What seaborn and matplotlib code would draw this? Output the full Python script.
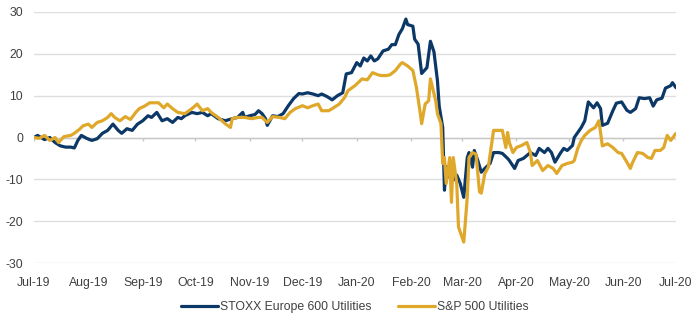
import matplotlib
matplotlib.use("Agg")
import matplotlib.pyplot as plt
import seaborn as sns
import pandas as pd

# ---- data (days since 1 Jul 2019, cumulative return %) ----
stoxx_days = [0, 2, 6, 9, 12, 15, 18, 21, 23, 25, 27, 30, 33, 36, 39, 42, 45, 48, 50, 53,
              56, 59, 62, 65, 67, 70, 73, 76, 79, 82, 84, 86, 90, 93, 96, 99, 101, 105, 109, 113,
              116, 119, 120, 123, 126, 128, 130, 132, 133, 136, 139, 142, 145, 148, 151, 153, 156, 159, 162, 164,
              167, 170, 173, 176, 178, 181, 184, 186, 188, 190, 192, 194, 196, 199, 202, 204, 206, 208, 210, 212,
              213, 216, 217, 219, 221, 224, 226, 228, 230, 231, 233, 234, 235, 237, 239, 241, 243, 245, 247, 248,
              250, 251, 253, 255, 257, 260, 262, 265, 267, 270, 271, 274, 276, 279, 281, 283, 286, 288, 291, 293,
              295, 297, 300, 302, 304, 307, 308, 310, 312, 314, 316, 319, 321, 323, 324, 327, 330, 332, 335, 338,
              340, 343, 345, 348, 351, 353, 355, 358, 360, 363, 364, 366]
stoxx_vals = [0, 0.5, -0.5, 0, -1.2, -2, -2.3, -2.3, -2.5, -0.7, 0.5, -0.2, -0.7, -0.3, 1, 1.7, 3.2, 1.7, 1, 2.1,
              1.7, 3.2, 4, 5.2, 4.8, 6, 4, 4.5, 3.6, 4.8, 4.5, 5.2, 6, 5.7, 6, 5.2, 5.7, 4.5, 4, 4.5,
              4.8, 6, 4.8, 5.2, 5.5, 6.4, 5.7, 4.5, 2.9, 5.2, 5, 5.7, 7.6, 9.3, 10.5, 10.4, 10.7, 10.4, 10, 10.4,
              9.8, 9, 10, 10.7, 15.2, 15.5, 17.9, 17.1, 19, 18.3, 19.5, 18.3, 18.8, 20.7, 21.1, 22.2, 22.2, 24.6, 26, 28.3,
              27, 26.6, 23.5, 22.3, 15.3, 16.7, 23, 20.5, 13.6, 7.5, 2.4, -12.6, -7, -9.5, -10.2, -9, -11, -14.3, -4.8, -3.6,
              -7.1, -3.1, -5.5, -8.3, -7.4, -6.2, -3.6, -3.6, -3.8, -5, -5.5, -7.4, -5.5, -5, -4.3, -3.6, -4.3, -2.6, -3.6, -2.6,
              -3.6, -5.9, -3.8, -2.6, -3.1, -1.9, 0, 1.2, 2.4, 4, 8.5, 7.1, 8.3, 6.9, 2.9, 3.4, 6.4, 8.2, 8.5, 6.5,
              6, 6.9, 9.5, 9.3, 9.5, 7.5, 9, 9.4, 11.8, 12.4, 13.1, 11.9]

sp_days = [0, 3, 6, 9, 12, 14, 17, 21, 23, 26, 28, 31, 33, 36, 39, 42, 44, 46, 49, 52,
           55, 58, 60, 63, 66, 71, 74, 76, 79, 82, 86, 90, 93, 96, 99, 101, 105, 109, 112, 113,
           116, 120, 124, 128, 130, 133, 136, 140, 143, 146, 149, 153, 156, 159, 162, 164, 168, 170, 174, 177,
           179, 183, 187, 190, 193, 196, 198, 201, 203, 206, 209, 210, 213, 216, 218, 220, 221, 223, 225, 226,
           229, 230, 232, 233, 234, 235, 237, 238, 239, 241, 242, 245, 247, 248, 250, 252, 254, 255, 257, 259,
           262, 264, 267, 269, 270, 271, 273, 275, 278, 281, 283, 284, 287, 290, 293, 296, 298, 301, 304, 307,
           308, 310, 312, 314, 317, 320, 322, 323, 324, 327, 330, 333, 335, 338, 340, 341, 344, 347, 350, 352,
           354, 357, 359, 361, 363, 366]
sp_vals = [0, -0.2, 0.5, -0.7, 0, -1.2, 0.2, 0.5, 1, 2, 2.8, 3.2, 2.4, 3.6, 4, 4.8, 5.7, 4.8, 4, 5,
           4.3, 6, 6.9, 7.5, 8.3, 8.3, 7.1, 8, 6.9, 6, 5.7, 6.9, 8, 6.4, 6.9, 6, 4.8, 3.3, 2.4, 4.5,
           4.8, 4.8, 4.5, 4.8, 4.8, 3.6, 5, 4.8, 4.5, 6, 6.9, 7.6, 7.1, 7.6, 8, 6.4, 6.4, 6.9, 8, 9.5,
           11.2, 12.4, 14, 13.8, 15.5, 15, 14.8, 14.8, 15, 16, 17.6, 17.9, 17.1, 16, 12, 6.4, 3.3, 8, 8.8, 14,
           8.8, 5.7, 3.3, -6.2, -4.8, -11, -4.8, -15.5, -4.8, -11, -21.4, -25, -14.3, -4.8, -3.6, -4, -13, -13.3, -8.6, -7.1,
           1.7, 1.7, 1.7, -2.4, 1.2, -1.2, -3.6, -2.4, -1.9, -1.2, -3.6, -6.7, -5.5, -7.9, -6.7, -7.4, -8.6, -6.7, -6.2, -5.9,
           -5.5, -2.6, -0.7, 0.5, 1.7, 2.4, 4, 1.2, -2, -1.5, -2.4, -3.6, -3.8, -5.9, -7.4, -6.2, -3.6, -3.8, -4.8, -5,
           -3.1, -3.1, -2.4, 0.5, -0.7, 1]

series_names = ["STOXX Europe 600 Utilities", "S&P 500 Utilities"]
colors = ["#0c3868", "#dfa82b"]
y_ticks = [-30, -20, -10, 0, 10, 20, 30]
start_date = "2019-07-01"
end_date = "2020-07-01"

# ---- build frame ----
start = pd.Timestamp(start_date)
df = pd.concat([
    pd.DataFrame({"date": start + pd.to_timedelta(stoxx_days, unit="D"),
                  "value": stoxx_vals, "series": series_names[0]}),
    pd.DataFrame({"date": start + pd.to_timedelta(sp_days, unit="D"),
                  "value": sp_vals, "series": series_names[1]}),
], ignore_index=True)

sns.set_theme(style="white")
plt.rcParams["font.family"] = ["Liberation Sans", "DejaVu Sans"]

fig = plt.figure(figsize=(7, 3.22), dpi=100)
ax = fig.add_axes([34 / 700, 1 - 263 / 322, 642 / 700, 251 / 322])

sns.lineplot(data=df, x="date", y="value", hue="series", palette=colors,
             estimator=None, sort=False, linewidth=2.3, ax=ax, legend=True)

ax.set_ylim(-30, 30)
ax.set_xlim(pd.Timestamp(start_date), pd.Timestamp(end_date))
ax.set_yticks(y_ticks)
ax.set_yticklabels([str(v) for v in y_ticks])
months = pd.date_range(start_date, end_date, freq="MS")
ax.set_xticks(months)
ax.set_xticklabels([m.strftime("%b-%y") for m in months])

ax.grid(axis="y", color="#dedede", linewidth=1.0)
ax.grid(axis="x", visible=False)
ax.set_axisbelow(True)
for s in ax.spines.values():
    s.set_visible(False)
ax.axhline(0, color="#c8c8c8", linewidth=1.0, zorder=1)
ax.vlines(months, -0.8, 0, color="#c8c8c8", linewidth=1.0, zorder=1)

ax.tick_params(axis="both", length=0, labelsize=8.8, labelcolor="#404040")
ax.tick_params(axis="x", pad=10)
ax.tick_params(axis="y", pad=8)
ax.set_xlabel("")
ax.set_ylabel("")

handles, labels = ax.get_legend_handles_labels()
ax.get_legend().remove()
fig.legend(handles, labels, loc="center", bbox_to_anchor=(355 / 700, 1 - 307 / 322),
           ncol=2, frameon=False, fontsize=8.8, handlelength=3.0, handletextpad=0.2,
           columnspacing=2.2, labelcolor="#404040")

fig.savefig("out.png", dpi=100)
